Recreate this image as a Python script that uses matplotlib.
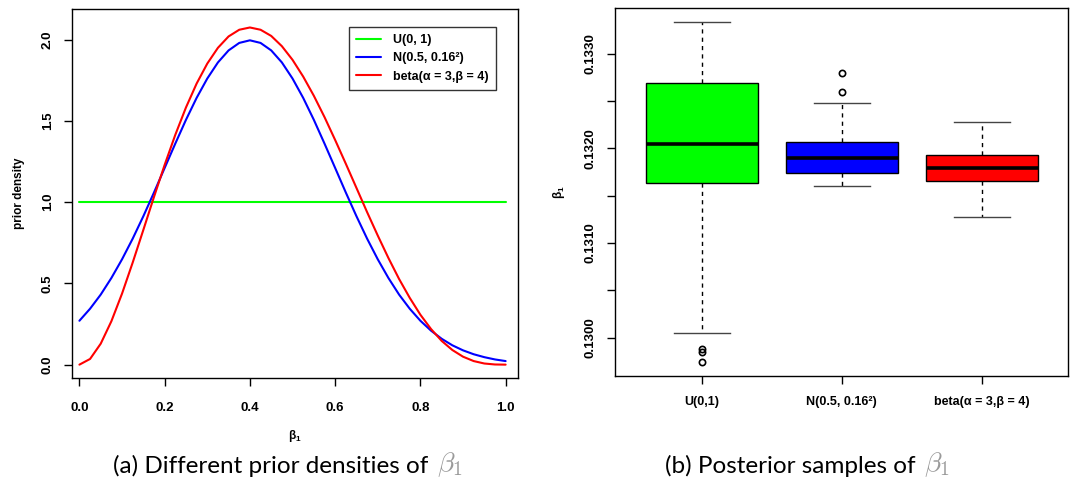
import numpy as np
import matplotlib
matplotlib.use('Agg')
import matplotlib.pyplot as plt

plt.rcParams['font.family'] = ['Liberation Sans', 'DejaVu Sans']
plt.rcParams['font.weight'] = 'bold'
plt.rcParams['axes.labelweight'] = 'bold'
plt.rcParams['mathtext.fontset'] = 'custom'
plt.rcParams['mathtext.rm'] = 'Liberation Sans:bold'
plt.rcParams['mathtext.it'] = 'Liberation Sans:bold'
plt.rcParams['mathtext.bf'] = 'Liberation Sans:bold'

# (a) prior densities, every 0.025
beta1_grid = [0.0, 0.025, 0.05, 0.075, 0.1, 0.125, 0.15, 0.175, 0.2, 0.225,
              0.25, 0.275, 0.3, 0.325, 0.35, 0.375, 0.4, 0.425, 0.45, 0.475,
              0.5, 0.525, 0.55, 0.575, 0.6, 0.625, 0.65, 0.675, 0.7, 0.725,
              0.75, 0.775, 0.8, 0.825, 0.85, 0.875, 0.9, 0.925, 0.95, 0.975, 1.0]
normal_dens = [0.270, 0.344, 0.431, 0.533, 0.648, 0.775, 0.913, 1.059, 1.210, 1.360,
               1.506, 1.641, 1.760, 1.859, 1.933, 1.979, 1.995, 1.979, 1.933, 1.859,
               1.760, 1.641, 1.506, 1.360, 1.210, 1.059, 0.913, 0.775, 0.648, 0.533,
               0.431, 0.344, 0.270, 0.209, 0.159, 0.119, 0.088, 0.064, 0.046, 0.032, 0.022]
beta_dens = [0.0, 0.035, 0.129, 0.267, 0.437, 0.628, 0.829, 1.032, 1.229, 1.414,
             1.582, 1.729, 1.852, 1.949, 2.019, 2.060, 2.074, 2.060, 2.022, 1.959,
             1.875, 1.772, 1.654, 1.523, 1.382, 1.236, 1.087, 0.938, 0.794, 0.656,
             0.527, 0.411, 0.307, 0.219, 0.146, 0.090, 0.049, 0.022, 0.007, 0.001, 0.0]
unif_x = [0.0, 1.0]
unif_dens = [1.0, 1.0]
prior_labels = ['U(0, 1)', 'N(0.5, 0.16²)', 'beta(α = 3,β = 4)']
prior_colors = ['#00ff00', '#0000ff', '#ff0000']

# (b) posterior samples of beta1 - box summaries
box_names = ['U(0,1)', 'N(0.5, 0.16²)', 'beta(α = 3,β = 4)']
box_med = [0.13205, 0.13190, 0.13179]
box_q1 = [0.13163, 0.13174, 0.13166]
box_q3 = [0.13269, 0.13207, 0.13193]
box_lo = [0.13005, 0.13160, 0.13127]
box_hi = [0.13333, 0.13248, 0.13228]
box_out = [[0.12988, 0.12985, 0.12974], [0.13280, 0.13260], []]

fig = plt.figure(figsize=(10.74, 4.87), dpi=100)

# ---- left panel
ax1 = fig.add_axes([0.0668, 0.2232, 0.4155, 0.7591])
line_kw = dict(lw=1.5, solid_joinstyle='round', solid_capstyle='round')
ax1.plot(unif_x, unif_dens, color=prior_colors[0], label=prior_labels[0], **line_kw)
ax1.plot(beta1_grid, normal_dens, color=prior_colors[1], label=prior_labels[1], **line_kw)
ax1.plot(beta1_grid, beta_dens, color=prior_colors[2], label=prior_labels[2], **line_kw)
ax1.set_xlim(-0.018, 1.029)
ax1.set_ylim(-0.084, 2.19)
ax1.set_xticks([0.0, 0.2, 0.4, 0.6, 0.8, 1.0])
ax1.set_xticklabels(['0.0', '0.2', '0.4', '0.6', '0.8', '1.0'])
ax1.set_yticks([0.0, 0.5, 1.0, 1.5, 2.0])
ax1.set_yticklabels(['0.0', '0.5', '1.0', '1.5', '2.0'], rotation=90, va='center')
ax1.tick_params(length=6, width=1, labelsize=9.5, pad=7, color='black')
ax1.tick_params(axis='x', pad=11)
ax1.set_ylabel('prior density', fontsize=8.5, va='center')
ax1.yaxis.set_label_coords(-0.118, 0.5)
ax1.set_xlabel('β$_1$', fontsize=8.5, va='center')
ax1.xaxis.set_label_coords(0.5, -0.155)
leg = ax1.legend(loc='upper right', bbox_to_anchor=(0.950, 0.951), borderaxespad=0,
                 fontsize=9, frameon=True, fancybox=False, edgecolor='black',
                 handlelength=2.0, handletextpad=0.9, labelspacing=0.5,
                 borderpad=0.6)
leg.get_frame().set_linewidth(1.0)
for t in leg.get_texts():
    t.set_fontweight('bold')

# ---- right panel
ax2 = fig.add_axes([0.5726, 0.2273, 0.4221, 0.7556])
stats = []
for i in range(len(box_names)):
    stats.append(dict(med=box_med[i], q1=box_q1[i], q3=box_q3[i],
                      whislo=box_lo[i], whishi=box_hi[i], fliers=box_out[i]))
bp = ax2.bxp(stats, positions=[1, 2, 3], widths=0.8, patch_artist=True,
             boxprops=dict(edgecolor='black', linewidth=1.0),
             medianprops=dict(color='black', linewidth=2.6, solid_capstyle='butt'),
             whiskerprops=dict(color='black', linewidth=1.0, linestyle=(0, (3, 3))),
             capprops=dict(color='#444444', linewidth=1.0),
             flierprops=dict(marker='o', markerfacecolor='none', markeredgecolor='black',
                             markersize=4.5, markeredgewidth=1.2),
             capwidths=0.4)
for patch, c in zip(bp['boxes'], prior_colors):
    patch.set_facecolor(c)
ax2.set_xlim(0.38, 3.62)
ax2.set_ylim(0.129592, 0.133479)
ax2.set_xticks([1, 2, 3])
ax2.set_xticklabels(box_names, fontsize=9)
ax2.set_yticks([0.1300, 0.1310, 0.1320, 0.1330])
ax2.set_yticklabels(['0.1300', '0.1310', '0.1320', '0.1330'], rotation=90, va='center')
ax2.set_yticks([0.1305, 0.1315, 0.1325], minor=True)
ax2.tick_params(which='both', length=6, width=1, color='black')
ax2.tick_params(axis='y', labelsize=9.5, pad=7)
ax2.tick_params(axis='x', pad=8)
ax2.set_ylabel('β$_1$', fontsize=8.5, va='center')
ax2.yaxis.set_label_coords(-0.1235, 0.5)

for ax in (ax1, ax2):
    for s in ax.spines.values():
        s.set_linewidth(1.0)
        s.set_color('black')

# ---- captions
fig.canvas.draw()
renderer = fig.canvas.get_renderer()
for x0, txt in [(0.105, '(a) Different prior densities of'),
                (0.619, '(b) Posterior samples of')]:
    t = fig.text(x0, 0.043, txt, fontsize=17.5, fontweight='normal',
                 family=['Lato', 'DejaVu Sans'], ha='left', va='center')
    bb = t.get_window_extent(renderer)
    xb = (bb.x1 + 9) / fig.bbox.width
    fig.text(xb, 0.046, r'$\beta_1$', fontsize=20, color='#9a9a9a',
             math_fontfamily='cm', ha='left', va='center')

fig.savefig('out.png', dpi=100)
